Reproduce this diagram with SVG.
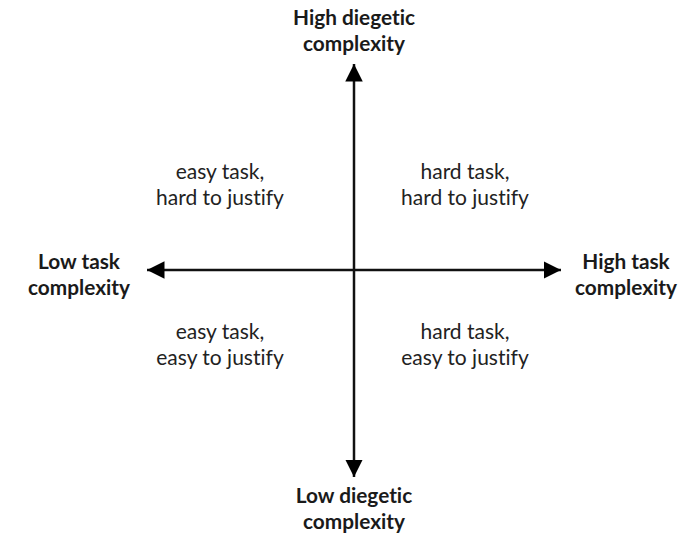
<svg xmlns="http://www.w3.org/2000/svg" width="679" height="533" viewBox="0 0 679 533">
  <style>
    .axis { stroke: #111; stroke-width: 2.5; fill: none; }
    .pole { font-family: Lato, "Open Sans", sans-serif; font-weight: bold; font-size: 20.8px; fill: #1a1a1a; text-anchor: middle; font-variant-ligatures: none; }
    .quad { font-family: Lato, "Open Sans", sans-serif; font-size: 21px; fill: #222; text-anchor: middle; font-variant-ligatures: none; }
  </style>
  <defs>
    <marker id="head" viewBox="0 0 10 10" refX="10" refY="5" markerWidth="7" markerHeight="7" markerUnits="strokeWidth" orient="auto">
      <path d="M0,0 L10,5 L0,10 Z" fill="#000"/>
    </marker>
  </defs>
  <rect width="679" height="533" fill="#fff"/>

  <!-- axes -->
  <g id="connectors">
    <line class="axis" x1="354" y1="270" x2="354" y2="64" marker-end="url(#head)"/>
    <line class="axis" x1="354" y1="270" x2="354" y2="477" marker-end="url(#head)"/>
    <line class="axis" x1="354" y1="270" x2="147" y2="270" marker-end="url(#head)"/>
    <line class="axis" x1="354" y1="270" x2="561" y2="270" marker-end="url(#head)"/>
  </g>

  <!-- axis poles -->
  <g id="high-diegetic">
    <text class="pole" x="354" y="25">High diegetic</text>
    <text class="pole" x="354" y="51">complexity</text>
  </g>
  <g id="low-diegetic">
    <text class="pole" x="354" y="503">Low diegetic</text>
    <text class="pole" x="354" y="529">complexity</text>
  </g>
  <g id="low-task">
    <text class="pole" x="79" y="269">Low task</text>
    <text class="pole" x="79" y="295">complexity</text>
  </g>
  <g id="high-task">
    <text class="pole" x="626" y="269">High task</text>
    <text class="pole" x="626" y="295">complexity</text>
  </g>

  <!-- quadrants -->
  <g id="q-top-left">
    <text class="quad" x="220" y="179">easy task,</text>
    <text class="quad" x="220" y="205">hard to justify</text>
  </g>
  <g id="q-top-right">
    <text class="quad" x="465" y="179">hard task,</text>
    <text class="quad" x="465" y="205">hard to justify</text>
  </g>
  <g id="q-bottom-left">
    <text class="quad" x="220" y="339">easy task,</text>
    <text class="quad" x="220" y="365">easy to justify</text>
  </g>
  <g id="q-bottom-right">
    <text class="quad" x="465" y="339">hard task,</text>
    <text class="quad" x="465" y="365">easy to justify</text>
  </g>
</svg>
